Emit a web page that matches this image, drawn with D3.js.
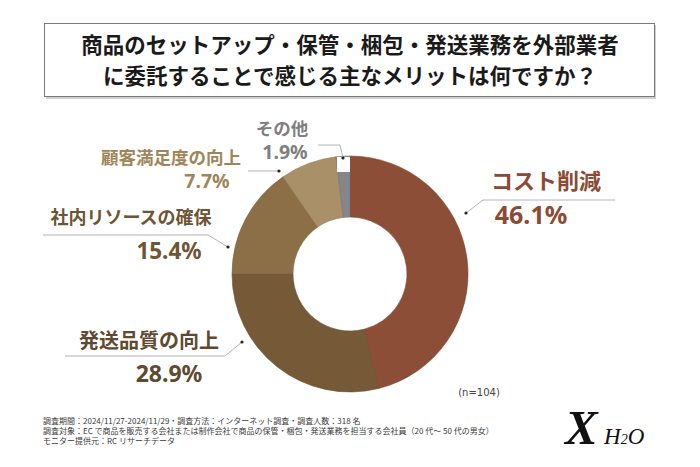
<!DOCTYPE html>
<html><head><meta charset="utf-8">
<script src="https://cdn.jsdelivr.net/npm/d3@7"></script>
<style>
html,body{margin:0;padding:0;background:#fff;}
svg{display:block;}
</style></head>
<body>
<svg id="chart" width="700" height="467"></svg>
<script>
// ---- data ----
const titleLines = ["商品のセットアップ・保管・梱包・発送業務を外部業者", "に委託することで感じる主なメリットは何ですか？"];
const categories = ["コスト削減", "発送品質の向上", "社内リソースの確保", "顧客満足度の向上", "その他"];
const values = [46.1, 28.9, 15.4, 7.7, 1.9];
const sliceColors = ["#8c4e37", "#765a38", "#8d6f47", "#a99068", "#86868a"];
const labelColors = ["#8b4a33", "#5f4a30", "#6e5533", "#a08558", "#7f7f7f"];
const sampleNote = "(n=104)";
const footerLines = [
  "調査期間：2024/11/27-2024/11/29・調査方法：インターネット調査・調査人数：318 名",
  "調査対象：EC で商品を販売する会社または制作会社で商品の保管・梱包・発送業務を担当する会社員（20 代～ 50 代の男女）",
  "モニター提供元：RC リサーチデータ"
];

// ---- layout ----
const cx = 350, cy = 274, rOuter = 118, rInner = 57;
const labelLayout = [
  {nx: 546, ny: 189, nfs: 22, px: 531, py: 224, pfs: 25, line: [[466,213],[483,200],[615,200]]},
  {nx: 149, ny: 348, nfs: 20, px: 169, py: 382, pfs: 23, line: [[242,342],[225,356],[65,356]]},
  {nx: 131, ny: 224, nfs: 18, px: 169, py: 259, pfs: 22.5, line: [[228,247],[208,235],[43,235]]},
  {nx: 171, ny: 164, nfs: 17.5, px: 207, py: 188, pfs: 19.5, line: [[279,171],[248,171]]},
  {nx: 282, ny: 135, nfs: 17.5, px: 285, py: 159, pfs: 19.5, line: [[343,158],[340,145],[318,145]],
   mask: [337,157,13,15]}
];

const svg = d3.select("#chart");
const jp = "'Noto Sans CJK JP','Noto Sans',sans-serif";
const latin = "'Noto Sans','Noto Sans CJK JP',sans-serif";

// title box
svg.append("rect").attr("x", 46).attr("y", 25).attr("width", 610).attr("height", 74)
  .attr("fill", "#d0d0d0");
svg.append("rect").attr("x", 44.5).attr("y", 23.5).attr("width", 610).attr("height", 73)
  .attr("fill", "#fff").attr("stroke", "#7a7a7a").attr("stroke-width", 1);
svg.selectAll("text.title").data(titleLines).join("text")
  .attr("class", "title")
  .attr("x", 350).attr("y", (d, i) => 53 + i * 31)
  .attr("text-anchor", "middle")
  .attr("font-family", jp).attr("font-weight", 700).attr("font-size", 21.5)
  .attr("fill", "#1a1a1a")
  .text(d => d);

// donut
const pie = d3.pie().sort(null).value(d => d);
const arcs = pie(values);
const arc = d3.arc().innerRadius(rInner).outerRadius(rOuter);
const g = svg.append("g").attr("transform", `translate(${cx},${cy})`);
g.selectAll("path").data(arcs).join("path")
  .attr("d", arc)
  .attr("fill", (d, i) => sliceColors[i])
  .attr("stroke", (d, i) => d3.color(sliceColors[i]).darker(0.4))
  .attr("stroke-width", 0.6);

// masks (label background boxes)
labelLayout.forEach(l => {
  if (l.mask) svg.append("rect").attr("x", l.mask[0]).attr("y", l.mask[1])
    .attr("width", l.mask[2]).attr("height", l.mask[3]).attr("fill", "#fff");
});

// leader lines
const lineGen = d3.line();
svg.selectAll("path.leader").data(labelLayout).join("path")
  .attr("class", "leader")
  .attr("d", d => lineGen(d.line))
  .attr("fill", "none").attr("stroke", "#b4b4b4").attr("stroke-width", 1);
svg.selectAll("circle.dot").data(labelLayout).join("circle")
  .attr("class", "dot")
  .attr("cx", d => d.line[0][0]).attr("cy", d => d.line[0][1])
  .attr("r", 1.6).attr("fill", "#222");

// labels
svg.selectAll("text.name").data(categories).join("text")
  .attr("class", "name")
  .attr("x", (d, i) => labelLayout[i].nx).attr("y", (d, i) => labelLayout[i].ny)
  .attr("text-anchor", "middle")
  .attr("font-family", jp).attr("font-weight", 700)
  .attr("font-size", (d, i) => labelLayout[i].nfs)
  .attr("fill", (d, i) => labelColors[i])
  .text(d => d);
svg.selectAll("text.pct").data(values).join("text")
  .attr("class", "pct")
  .attr("x", (d, i) => labelLayout[i].px).attr("y", (d, i) => labelLayout[i].py)
  .attr("text-anchor", "middle")
  .attr("font-family", latin).attr("font-weight", 700)
  .attr("font-size", (d, i) => labelLayout[i].pfs)
  .attr("fill", (d, i) => labelColors[i])
  .text(d => d3.format(".1f")(d) + "%");

// n note
svg.append("text").attr("x", 479).attr("y", 396).attr("text-anchor", "middle")
  .attr("font-family", "'DejaVu Sans',sans-serif").attr("font-size", 10).attr("fill", "#444")
  .text(sampleNote);

// footer
svg.selectAll("text.foot").data(footerLines).join("text")
  .attr("class", "foot")
  .attr("x", 43).attr("y", (d, i) => 423.5 + i * 10.3)
  .attr("font-family", jp).attr("font-size", 8).attr("fill", "#3a3a3a")
  .text(d => d);

// logo
svg.append("text").attr("x", 565).attr("y", 444)
  .attr("font-family", "'Liberation Serif',serif").attr("font-weight", 700).attr("font-style", "italic")
  .attr("font-size", 49).attr("fill", "#111").text("X");
const logo = svg.append("text").attr("x", 604).attr("y", 444)
  .attr("font-family", "'Liberation Serif',serif").attr("font-style", "italic")
  .attr("font-size", 23).attr("fill", "#111");
logo.append("tspan").text("H");
logo.append("tspan").attr("font-size", 14).text("2");
logo.append("tspan").text("O");
</script>
</body></html>
